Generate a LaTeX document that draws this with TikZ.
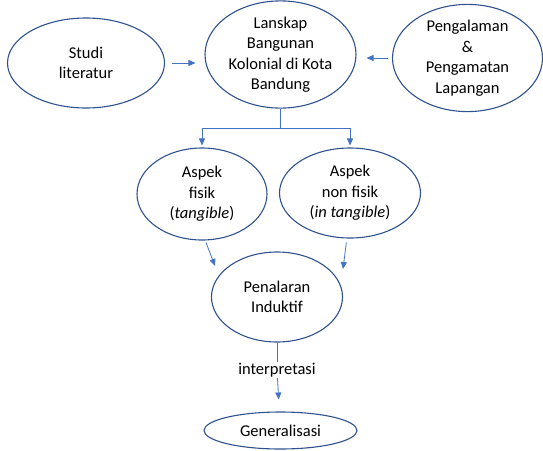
\documentclass[tikz,border=0pt]{standalone}
\usepackage{fontspec}
\setmainfont{Carlito}
\usepackage{tikz}
\usetikzlibrary{arrows.meta,positioning,shapes.geometric}

\definecolor{rimblue}{HTML}{2F528F}
\definecolor{arrowblue}{HTML}{4472C4}

\begin{document}
\begin{tikzpicture}[on grid,
    bubble/.style={ellipse,draw=rimblue,line width=1.1pt,inner sep=0pt,align=center,
      font=\fontsize{16.5}{20.5}\selectfont},
    link/.style={draw=arrowblue,line width=0.8pt},
    arr/.style={link,-{Triangle[length=7pt,width=6pt]}}]
  \useasboundingbox (0,0) rectangle (543pt,-450pt);
  \node[bubble,minimum width=151pt,minimum height=105pt] (lanskap) at (280.5pt,-54.5pt)
    {Lanskap\\Bangunan\\Kolonial di Kota\\Bandung};
  \node[bubble,minimum width=157pt,minimum height=90pt] (studi) [below left=8.5pt and 194.5pt of lanskap]
    {Studi\\literatur};
  \node[bubble,minimum width=150pt,minimum height=90pt] (peng) [below right=3.5pt and 187pt of lanskap]
    {Pengalaman\\\&\\Pengamatan\\Lapangan};
  \node[bubble,minimum width=130pt,minimum height=92pt] (fisik) [below left=139.5pt and 78.5pt of lanskap]
    {Aspek\\fisik\\(\textit{tangible})};
  \node[bubble,minimum width=141pt,minimum height=90pt] (nonfisik) [below right=138.5pt and 69.5pt of lanskap]
    {Aspek\\non fisik\\(\textit{in tangible})};
  \node[bubble,minimum width=131pt,minimum height=90pt] (penalaran) [below left=242.5pt and 3.5pt of lanskap]
    {Penalaran\\Induktif};
  \node[bubble,minimum width=153pt,minimum height=37pt] (general) [below=376pt of lanskap]
    {Generalisasi};
  \node[font=\fontsize{16.5}{20.5}\selectfont,inner sep=1pt] (interp) [below=73pt of penalaran] {interpretasi};

  \coordinate[below=73.5pt of lanskap] (split);
  \coordinate[above left=31pt and 62pt of penalaran] (ltip);
  \coordinate[above right=28pt and 66pt of penalaran] (rtip);

  % masukan ke topik
  \path[arr,shorten <=7pt,shorten >=9pt] (studi.east) -- (studi.east -| lanskap.west);
  \path[arr,shorten <=4pt,shorten >=10pt] (peng.west) -- (peng.west -| lanskap.east);
  % cabang ke dua aspek
  \path[link] (lanskap.south) -- (split);
  \path[arr,shorten >=2pt] (split) -| (fisik.north);
  \path[arr,shorten >=2pt] (split) -| (nonfisik.north);
  % ke penalaran
  \path[arr,shorten <=2pt] (fisik.-86) -- (ltip);
  \path[arr,shorten <=4pt] (nonfisik.-94) -- (rtip);
  \path[link] (penalaran.south) -- (interp);
  \path[arr,shorten >=12pt] (interp) -- (general);
\end{tikzpicture}
\end{document}
